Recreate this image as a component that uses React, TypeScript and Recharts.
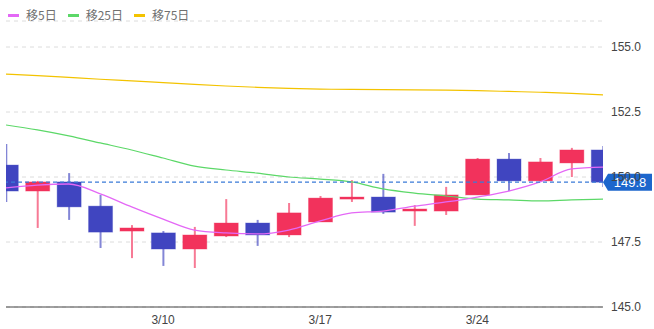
import {
  Bar,
  CartesianGrid,
  ComposedChart,
  Line,
  ReferenceLine,
  XAxis,
  YAxis,
} from 'recharts';

const dates = [
  '3/3', '3/4', '3/5', '3/6', '3/7',
  '3/10', '3/11', '3/12', '3/13', '3/14',
  '3/17', '3/18', '3/19', '3/20', '3/21',
  '3/24', '3/25', '3/26', '3/27', '3/28',
];
const opens = [150.46, 149.46, 149.81, 148.88, 147.92, 147.85, 147.23, 147.73, 148.23, 147.77, 148.27, 149.15, 149.23, 148.69, 148.69, 149.31, 150.69, 149.85, 150.54, 151.04];
const highs = [151.27, 149.85, 150.15, 149.31, 148.15, 147.92, 148.08, 149.15, 148.35, 149.0, 149.27, 149.88, 150.12, 148.92, 149.62, 150.73, 150.92, 150.73, 151.12, 151.19];
const lows = [149.04, 148.04, 148.35, 147.27, 146.88, 146.58, 146.5, 147.69, 147.35, 147.69, 148.27, 149.04, 148.58, 148.12, 148.54, 149.31, 149.46, 149.85, 150.0, 149.62];
const closes = [149.46, 149.81, 148.85, 147.88, 148.04, 147.23, 147.77, 148.23, 147.77, 148.62, 149.19, 149.23, 148.65, 148.77, 149.31, 150.69, 149.85, 150.58, 151.04, 149.8];
const ma5 = [149.58, 149.69, 149.73, 149.35, 148.85, 148.38, 147.96, 147.85, 147.81, 147.96, 148.31, 148.62, 148.69, 148.88, 149.04, 149.23, 149.46, 149.81, 150.31, 150.38];
const ma25 = [152.0, 151.81, 151.58, 151.31, 151.04, 150.73, 150.42, 150.27, 150.15, 150.0, 149.92, 149.81, 149.54, 149.38, 149.27, 149.15, 149.12, 149.08, 149.12, 149.15];
const ma75 = [153.96, 153.9, 153.83, 153.76, 153.7, 153.63, 153.56, 153.5, 153.45, 153.41, 153.38, 153.37, 153.36, 153.35, 153.34, 153.32, 153.29, 153.26, 153.22, 153.16];
const lastPrice = 149.8;
const yTicks = [145, 147.5, 150, 152.5, 155];
const xTicks = [5, 10, 15];

const UP = '#f2325c';
const DOWN = '#4045c0';
const MA_COLORS = { ma5: '#e468f6', ma25: '#5cd868', ma75: '#f3c300' };

const data = dates.map((d, i) => ({
  i,
  date: d,
  open: opens[i],
  high: highs[i],
  low: lows[i],
  close: closes[i],
  range: [lows[i], highs[i]],
  ma5: ma5[i],
  ma25: ma25[i],
  ma75: ma75[i],
}));

// body + wick drawn inside the [low, high] bar the library lays out
const Candle = (props: any) => {
  const { x, y, width, height, payload } = props;
  if (x == null || y == null) return null;
  const { open, close, high, low } = payload;
  const color = close >= open ? UP : DOWN;
  const ppu = height / (high - low || 1);
  const yOf = (v: number) => y + (high - v) * ppu;
  const top = yOf(Math.max(open, close));
  const bottom = yOf(Math.min(open, close));
  const cx = x + width / 2;
  return (
    <g>
      <line x1={cx} x2={cx} y1={y} y2={y + height} stroke={color} strokeOpacity={0.65} strokeWidth={2} />
      <rect
        x={x}
        y={top}
        width={width}
        height={Math.max(bottom - top, 2)}
        fill={color}
        stroke={color}
        strokeOpacity={0.35}
        strokeWidth={1}
      />
    </g>
  );
};

const PriceTag = (props: any) => {
  const vb = props.viewBox;
  if (!vb) return null;
  const x = vb.x + vb.width;
  const y = vb.y;
  const h = 17;
  const w = 44;
  const d = `M${x} ${y} L${x + 5} ${y - h / 2} L${x + 5 + w} ${y - h / 2} L${x + 5 + w} ${y + h / 2} L${x + 5} ${y + h / 2} Z`;
  return (
    <g>
      <path d={d} fill="#1c66cc" />
      <text
        x={x + 5 + w / 2}
        y={y}
        dy="0.36em"
        textAnchor="middle"
        fill="#fff"
        fontSize={13}
        fontFamily="Arial, 'Liberation Sans', sans-serif"
      >
        {lastPrice.toFixed(1)}
      </text>
    </g>
  );
};

const legendItems = [
  { key: 'ma5', label: '移5日' },
  { key: 'ma25', label: '移25日' },
  { key: 'ma75', label: '移75日' },
] as const;

export default function App() {
  return (
    <div style={{ position: 'absolute', left: 0, top: 0, width: 654, height: 329, background: '#fff' }}>
      <div
        style={{
          position: 'absolute',
          left: 8,
          top: 7,
          display: 'flex',
          gap: 11,
          fontSize: 12,
          color: '#707070',
          fontFamily: "'Noto Sans CJK JP', 'Noto Sans', sans-serif",
          lineHeight: '16px',
          zIndex: 2,
        }}
      >
        {legendItems.map((it) => (
          <div key={it.key} style={{ display: 'flex', alignItems: 'center', gap: 7 }}>
            <span style={{ display: 'inline-block', width: 11, height: 3, background: MA_COLORS[it.key] }} />
            <span>{it.label}</span>
          </div>
        ))}
      </div>
      <ComposedChart
        width={654}
        height={329}
        data={data}
        margin={{ top: 21, right: 0, left: 6, bottom: 0 }}
        style={{ fontFamily: "Arial, 'Liberation Sans', sans-serif" }}
      >
        <CartesianGrid vertical={false} stroke="#dcdcdc" strokeDasharray="4 4" />
        <XAxis
          type="number"
          dataKey="i"
          domain={[0, dates.length - 1]}
          ticks={xTicks}
          tickFormatter={(v) => dates[v]}
          allowDataOverflow
          axisLine={{ stroke: '#444' }}
          tickLine={false}
          tick={{ fontSize: 12, fill: '#444' }}
          height={22}
        />
        <YAxis
          orientation="right"
          domain={[145, 156]}
          ticks={yTicks}
          tickFormatter={(v) => Number(v).toFixed(1)}
          axisLine={false}
          tickLine={false}
          tick={{ fontSize: 12, fill: '#444' }}
          width={51}
        />
        <Bar dataKey="range" barSize={24} shape={Candle} isAnimationActive={false} />
        <Line type="monotone" dataKey="ma75" stroke={MA_COLORS.ma75} strokeWidth={1.2} dot={false} isAnimationActive={false} />
        <Line type="monotone" dataKey="ma25" stroke={MA_COLORS.ma25} strokeWidth={1.2} dot={false} isAnimationActive={false} />
        <Line type="monotone" dataKey="ma5" stroke={MA_COLORS.ma5} strokeWidth={1.3} dot={false} isAnimationActive={false} />
        <ReferenceLine
          y={lastPrice}
          stroke="#3a7bd8"
          strokeDasharray="4 3"
          strokeWidth={1.2}
          label={<PriceTag />}
        />
      </ComposedChart>
    </div>
  );
}
